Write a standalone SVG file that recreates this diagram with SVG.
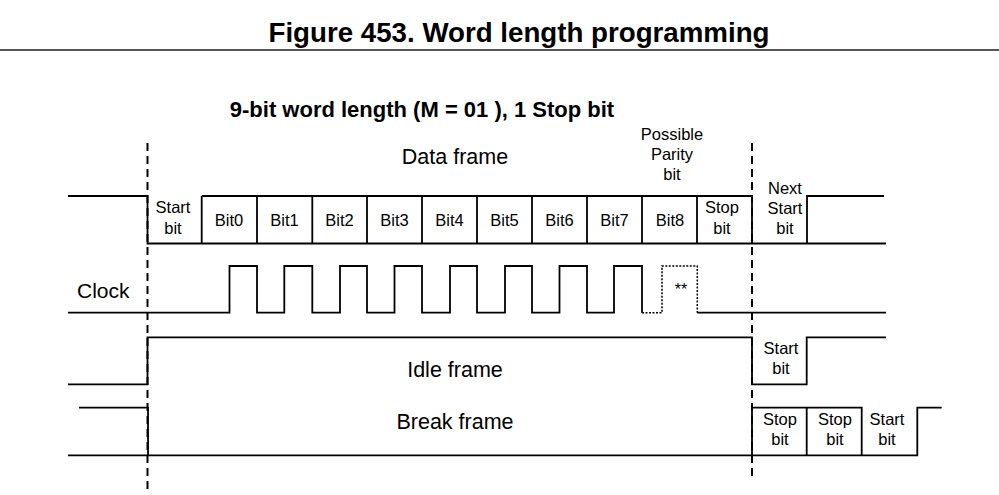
<svg xmlns="http://www.w3.org/2000/svg" width="999" height="495" viewBox="0 0 999 495">
<style>
.w{fill:none;stroke:#000;stroke-width:1.8;stroke-linejoin:miter}
.d{fill:none;stroke:#000;stroke-width:1.5;stroke-dasharray:2 1.5}
.dash{fill:none;stroke:#000;stroke-width:2;stroke-dasharray:8 5}
text{font-family:"Liberation Sans",Arial,sans-serif;fill:#000}
.s{font-size:16.5px;text-anchor:middle}
.m{font-size:21.5px;text-anchor:middle}
</style>
<rect width="999" height="495" fill="#fff"/>
<text x="519" y="42" font-size="27.7" font-weight="bold" text-anchor="middle">Figure 453. Word length programming</text>
<line x1="0" y1="50" x2="999" y2="50" stroke="#555" stroke-width="2"/>
<text x="422" y="117" font-size="22" font-weight="bold" text-anchor="middle">9-bit word length (M = 01 ), 1 Stop bit</text>
<g id="markers">
<line class="dash" x1="147.5" y1="143" x2="147.5" y2="490"/>
<line class="dash" x1="752" y1="143" x2="752" y2="478"/>
</g>
<g id="data-frame">
<path class="w" d="M68 196H147.5V243.5H886M201.7 196H752V243.5M807 243.5V196H884"/>
<path class="w" d="M201.7 196V243.5M257 196V243.5M312.3 196V243.5M367 196V243.5M422 196V243.5M477 196V243.5M532 196V243.5M587 196V243.5M642 196V243.5M697 196V243.5"/>
<text class="m" x="455" y="164">Data frame</text>
<text class="s" x="672" y="140">Possible</text>
<text class="s" x="672" y="160">Parity</text>
<text class="s" x="672" y="180">bit</text>
<text class="s" x="173" y="213">Start</text>
<text class="s" x="173" y="234">bit</text>
<text class="s" x="229" y="226">Bit0</text>
<text class="s" x="284.5" y="226">Bit1</text>
<text class="s" x="339.5" y="226">Bit2</text>
<text class="s" x="394.5" y="226">Bit3</text>
<text class="s" x="449.5" y="226">Bit4</text>
<text class="s" x="504.5" y="226">Bit5</text>
<text class="s" x="559.5" y="226">Bit6</text>
<text class="s" x="614.5" y="226">Bit7</text>
<text class="s" x="670" y="226">Bit8</text>
<text class="s" x="722" y="213">Stop</text>
<text class="s" x="722" y="234">bit</text>
<text class="s" x="785" y="194">Next</text>
<text class="s" x="785" y="214">Start</text>
<text class="s" x="785" y="234">bit</text>
</g>
<g id="clock">
<path class="w" d="M68 312.7H229.5V266H257V312.7H284.3V266H312.3V312.7H340V266H367V312.7H394.5V266H422V312.7H450V266H477V312.7H505V266H532V312.7H559.5V266H587V312.7H614V266H642V312.7"/>
<path class="d" d="M642 312.7H662V266H697.3V312.7"/>
<path class="w" d="M697.3 312.7H886"/>
<text x="681" y="295" font-size="16" text-anchor="middle">**</text>
<text x="77" y="298" font-size="21">Clock</text>
</g>
<g id="idle-frame">
<path class="w" d="M68 384.3H147.5V337.3H752V384.3H806.7V337.3H886"/>
<text class="m" x="455" y="377">Idle frame</text>
<text class="s" x="781" y="354">Start</text>
<text class="s" x="781" y="374">bit</text>
</g>
<g id="break-frame">
<path class="w" d="M79 407.7H148V455.3M68 455.3H917.3V407.7H941.7M752 455.3V407.7H861.7V455.3M806.7 407.7V455.3"/>
<text class="m" x="455" y="429">Break frame</text>
<text class="s" x="780" y="425">Stop</text>
<text class="s" x="780" y="445">bit</text>
<text class="s" x="835" y="425">Stop</text>
<text class="s" x="835" y="445">bit</text>
<text class="s" x="887" y="425">Start</text>
<text class="s" x="887" y="445">bit</text>
</g>
</svg>
